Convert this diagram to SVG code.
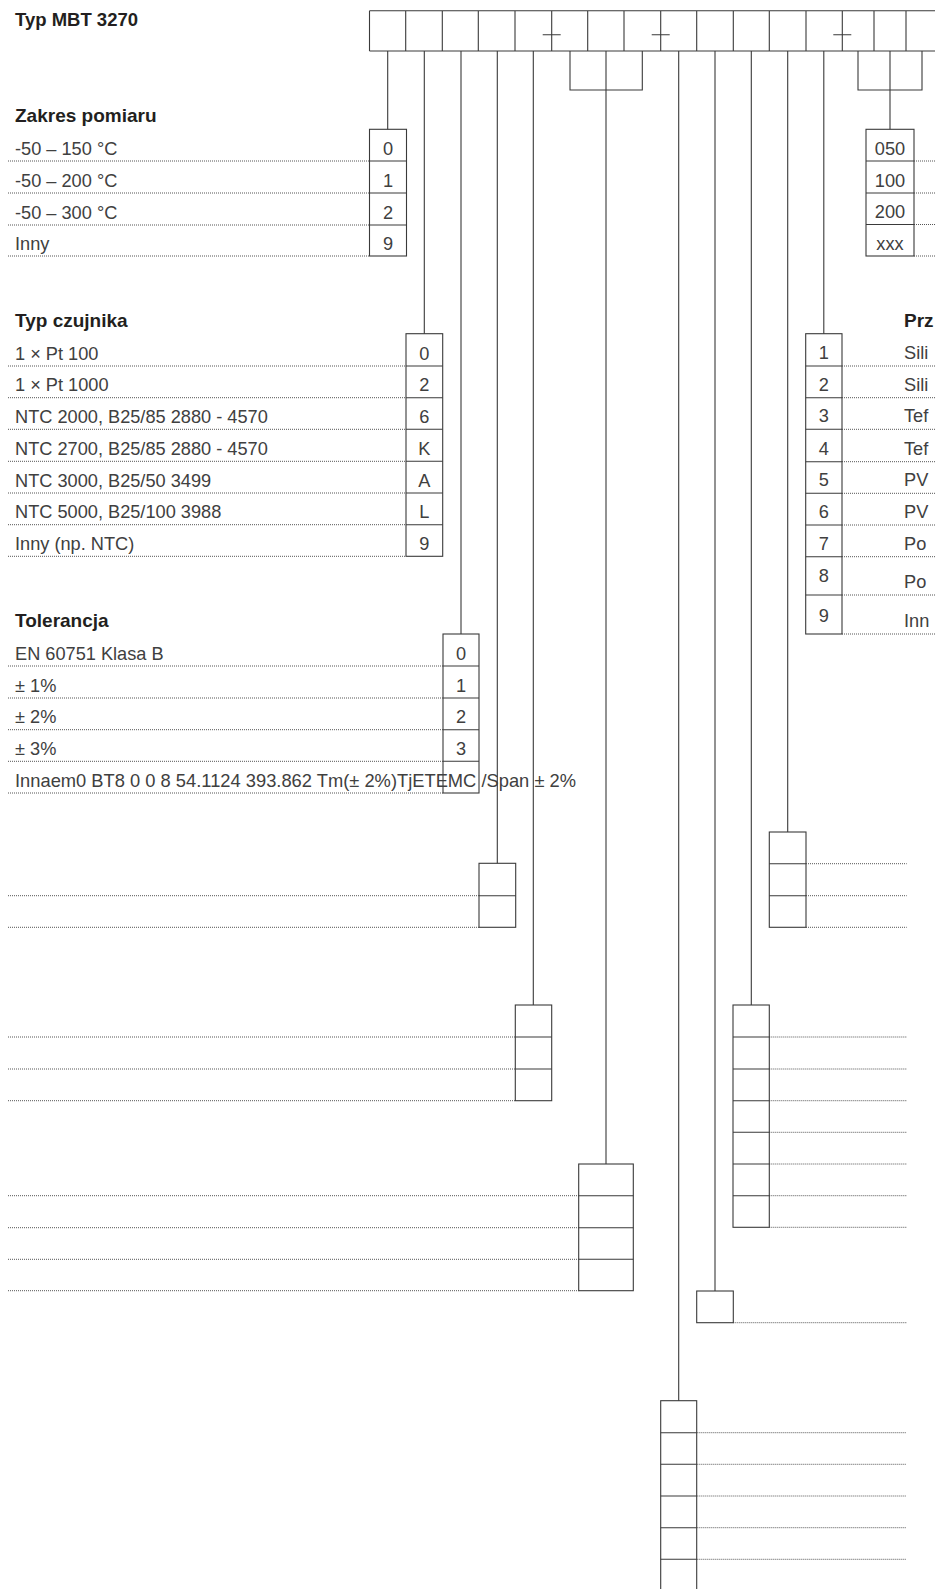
<svg xmlns="http://www.w3.org/2000/svg" width="935" height="1589" viewBox="0 0 935 1589">
<style>
.t{font-family:"Liberation Sans",Arial,sans-serif;font-size:18.2px;fill:#404040}
.c{font-family:"Liberation Sans",Arial,sans-serif;font-size:18.2px;fill:#404040;text-anchor:middle}
.h{font-family:"Liberation Sans",Arial,sans-serif;font-size:19px;font-weight:bold;fill:#231f20}
.box{fill:none;stroke:#3a3a3a;stroke-width:1.1}
.ln{fill:none;stroke:#3a3a3a;stroke-width:1.1}
.dot{fill:none;stroke:#555;stroke-width:1;stroke-dasharray:1 1}
</style>
<rect width="935" height="1589" fill="#fff"/>

<g id="title"><text class="h" x="15" y="26" style="font-size:18.5px">Typ MBT 3270</text></g>

<g id="code-row">
<path class="ln" d="M369.5 10.7H940M369.5 51H940M369.5 10.7V51M405.7 10.7V51M442.3 10.7V51M478.3 10.7V51M515 10.7V51M551.7 10.7V51M587.7 10.7V51M624 10.7V51M660.7 10.7V51M696.7 10.7V51M733.3 10.7V51M769.3 10.7V51M806 10.7V51M842.3 10.7V51M874 10.7V51M906 10.7V51"/>
<path class="ln" d="M542.7 34.7H560.7M651.7 34.7H669.7M833.3 34.7H851.3"/>
</g>

<g id="connectors">
<path class="ln" d="M387.7 51V129.3M424.3 51V333.7M461 51V634M497.3 51V863.3M533.3 51V1005M606 51V1164M678.7 51V1400.7M715 51V1291M751.3 51V1005M787.7 51V832M823.8 51V333.7M890 51V129.3"/>
<path class="ln" d="M570 51V90H642.3V51M858 51V90H922V51"/>
</g>

<g id="zakres-pomiaru">
<text class="h" x="15" y="121.7">Zakres pomiaru</text>
<text class="t" x="15" y="154.5">-50 – 150 °C</text>
<text class="t" x="15" y="186.5">-50 – 200 °C</text>
<text class="t" x="15" y="218.5">-50 – 300 °C</text>
<text class="t" x="15" y="249.5">Inny</text>
<path class="dot" d="M8 161H369.5M8 193H369.5M8 225H369.5M8 256H369.5"/>
<rect class="box" x="369.5" y="129.3" width="37" height="126.7"/>
<path class="ln" d="M369.5 161H406.5M369.5 193H406.5M369.5 225H406.5"/>
<text class="c" x="388" y="154.5">0</text>
<text class="c" x="388" y="186.5">1</text>
<text class="c" x="388" y="218.5">2</text>
<text class="c" x="388" y="249.5">9</text>
</g>

<g id="typ-czujnika">
<text class="h" x="15" y="326.7">Typ czujnika</text>
<text class="t" x="15" y="359.5">1 × Pt 100</text>
<text class="t" x="15" y="391.2">1 × Pt 1000</text>
<text class="t" x="15" y="422.8">NTC 2000, B25/85 2880 - 4570</text>
<text class="t" x="15" y="454.8">NTC 2700, B25/85 2880 - 4570</text>
<text class="t" x="15" y="486.5">NTC 3000, B25/50 3499</text>
<text class="t" x="15" y="518.2">NTC 5000, B25/100 3988</text>
<text class="t" x="15" y="549.8">Inny (np. NTC)</text>
<path class="dot" d="M8 366H406M8 397.7H406M8 429.3H406M8 461.3H406M8 493H406M8 524.7H406M8 556.3H406"/>
<rect class="box" x="406" y="333.7" width="36.7" height="222.6"/>
<path class="ln" d="M406 366H442.7M406 397.7H442.7M406 429.3H442.7M406 461.3H442.7M406 493H442.7M406 524.7H442.7"/>
<text class="c" x="424.3" y="359.5">0</text>
<text class="c" x="424.3" y="391.2">2</text>
<text class="c" x="424.3" y="422.8">6</text>
<text class="c" x="424.3" y="454.8">K</text>
<text class="c" x="424.3" y="486.5">A</text>
<text class="c" x="424.3" y="518.2">L</text>
<text class="c" x="424.3" y="549.8">9</text>
</g>

<g id="tolerancja">
<text class="h" x="15" y="626.7">Tolerancja</text>
<text class="t" x="15" y="659.5">EN 60751 Klasa B</text>
<text class="t" x="15" y="691.5">± 1%</text>
<text class="t" x="15" y="723.2">± 2%</text>
<text class="t" x="15" y="754.8">± 3%</text>
<path class="dot" d="M8 666H443M8 698H443M8 729.7H443M8 761.3H443M8 793H443"/>
<rect class="box" x="443" y="634" width="36" height="159"/>
<path class="ln" d="M443 666H479M443 698H479M443 729.7H479M443 761.3H479"/>
<text class="c" x="461" y="659.5">0</text>
<text class="c" x="461" y="691.5">1</text>
<text class="c" x="461" y="723.2">2</text>
<text class="c" x="461" y="754.8">3</text>
<text class="t" x="15" y="786.5" textLength="561" lengthAdjust="spacingAndGlyphs">Innaem0 BT8 0 0 8 54.1124 393.862 Tm(± 2%)TjETEMC /Span ± 2%</text>
</g>

<g id="opcja-050">
<path class="dot" d="M914 161H935M914 193H935M914 224.5H935M914 256H935"/>
<rect class="box" x="866" y="129.3" width="48" height="126.7"/>
<path class="ln" d="M866 161H914M866 193H914M866 224.5H914"/>
<text class="c" x="890" y="154.5">050</text>
<text class="c" x="890" y="186.5">100</text>
<text class="c" x="890" y="218">200</text>
<text class="c" x="890" y="249.5">xxx</text>
</g>

<g id="przewod">
<text class="h" x="904" y="326.7">Prz</text>
<text class="t" x="904" y="358.5">Sili</text>
<text class="t" x="904" y="390.5">Sili</text>
<text class="t" x="904" y="422">Tef</text>
<text class="t" x="904" y="454.5">Tef</text>
<text class="t" x="904" y="486">PV</text>
<text class="t" x="904" y="518">PV</text>
<text class="t" x="904" y="550">Po</text>
<text class="t" x="904" y="588">Po</text>
<text class="t" x="904" y="627">Inn</text>
<path class="dot" d="M842 366H935M842 397.7H935M842 429.3H935M842 461.7H935M842 493.3H935M842 525H935M842 556.7H935M842 595H935M842 634H935"/>
<rect class="box" x="805.7" y="333.7" width="36.3" height="300.3"/>
<path class="ln" d="M805.7 366H842M805.7 397.7H842M805.7 429.3H842M805.7 461.7H842M805.7 493.3H842M805.7 525H842M805.7 556.7H842M805.7 595H842"/>
<text class="c" x="823.8" y="359">1</text>
<text class="c" x="823.8" y="390.7">2</text>
<text class="c" x="823.8" y="422.3">3</text>
<text class="c" x="823.8" y="454.5">4</text>
<text class="c" x="823.8" y="486.3">5</text>
<text class="c" x="823.8" y="518">6</text>
<text class="c" x="823.8" y="549.7">7</text>
<text class="c" x="823.8" y="582">8</text>
<text class="c" x="823.8" y="621.5">9</text>
</g>

<g id="opcja-b4">
<path class="dot" d="M8 895.7H479M8 927.3H479"/>
<rect class="box" x="479" y="863.3" width="36.7" height="64"/>
<path class="ln" d="M479 895.7H515.7"/>
</g>

<g id="opcja-b5">
<path class="dot" d="M8 1037H515.3M8 1069H515.3M8 1100.7H515.3"/>
<rect class="box" x="515.3" y="1005" width="36.4" height="95.7"/>
<path class="ln" d="M515.3 1037H551.7M515.3 1069H551.7"/>
</g>

<g id="opcja-b7">
<path class="dot" d="M8 1195.7H578.7M8 1227.7H578.7M8 1259.3H578.7M8 1290.7H578.7"/>
<rect class="box" x="578.7" y="1164" width="54.6" height="126.7"/>
<path class="ln" d="M578.7 1195.7H633.3M578.7 1227.7H633.3M578.7 1259.3H633.3"/>
</g>

<g id="opcja-b12">
<path class="dot" d="M806 863.7H906.7M806 895.7H906.7M806 927.3H906.7"/>
<rect class="box" x="769.3" y="832" width="36.7" height="95.3"/>
<path class="ln" d="M769.3 863.7H806M769.3 895.7H806"/>
</g>

<g id="opcja-b11">
<path class="dot" d="M769.3 1037H906.7M769.3 1069H906.7M769.3 1100.7H906.7M769.3 1132.3H906.7M769.3 1164H906.7M769.3 1195.7H906.7M769.3 1227.3H906.7"/>
<rect class="box" x="733" y="1005" width="36.3" height="222.3"/>
<path class="ln" d="M733 1037H769.3M733 1069H769.3M733 1100.7H769.3M733 1132.3H769.3M733 1164H769.3M733 1195.7H769.3"/>
</g>

<g id="opcja-b10">
<path class="dot" d="M733.3 1322.7H906.7"/>
<rect class="box" x="696.7" y="1291" width="36.6" height="31.7"/>
</g>

<g id="opcja-b9">
<path class="dot" d="M696.7 1432.7H906.7M696.7 1464.3H906.7M696.7 1496H906.7M696.7 1527.7H906.7M696.7 1559.3H906.7"/>
<rect class="box" x="660.7" y="1400.7" width="36" height="210"/>
<path class="ln" d="M660.7 1432.7H696.7M660.7 1464.3H696.7M660.7 1496H696.7M660.7 1527.7H696.7M660.7 1559.3H696.7"/>
</g>
</svg>
